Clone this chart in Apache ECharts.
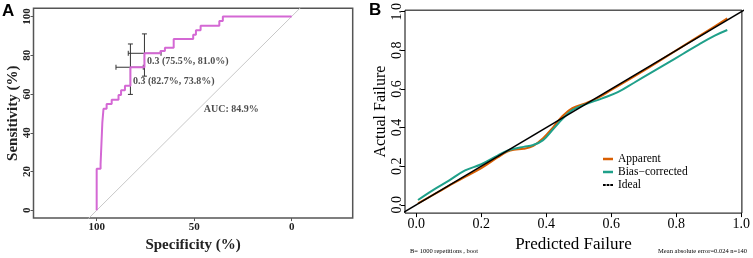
<!DOCTYPE html>
<html>
<head>
<meta charset="utf-8">
<script src="https://cdn.jsdelivr.net/npm/echarts@6.0.0/dist/echarts.min.js"></script>
<style>
  html, body { margin: 0; padding: 0; background: #fff; }
  #chart { width: 753px; height: 258px; }
</style>
</head>
<body>
<div id="chart"></div>
<script>
// ---- panel A: ROC curve (specificity / sensitivity, %) ----
const rocSpec = [100, 100, 98.0, 98.0, 97.1, 97.1, 96.5, 96.5, 94.9, 94.9, 92.3, 92.3, 88.8, 88.8, 87.5, 87.5,
  85.5, 85.5, 82.7, 82.7, 75.5, 75.5, 67.3, 67.3, 65.0, 65.0, 60.5, 60.5, 50.5, 50.5, 49.1, 49.1,
  46.7, 46.7, 37.1, 37.1, 35.3, 35.3, 0]
const rocSens = [0, 21.4, 21.4, 23.8, 23.8, 45.2, 45.2, 52.4, 52.4, 54.8, 54.8, 57.1, 57.1, 59.5, 59.5, 61.9,
  61.9, 64.3, 64.3, 73.8, 73.8, 81.0, 81.0, 82.2, 82.2, 83.8, 83.8, 88.4, 88.4, 90.5, 90.5, 92.9,
  92.9, 95.2, 95.2, 97.6, 97.6, 100, 100]
const diagSpec = [110, -10]
const diagSens = [-10, 110]

// thresholds with their confidence intervals
const thrValue = ['0.3', '0.3']
const thrSpec = [82.7, 75.5]
const thrSens = [73.8, 81.0]
const thrSpecLow = [76.1, 67.0]
const thrSpecHigh = [90.1, 83.8]
const thrSensLow = [59.8, 69.2]
const thrSensHigh = [85.8, 91.0]
const aucText = 'AUC: 84.9%'
const aucPos = [45.3, 51.8]
const rocTicks = [100, 50, 0]
const sensTicks = [0, 20, 40, 60, 80, 100]

// ---- panel B: calibration curve ----
const appX = [0.005, 0.05, 0.10, 0.15, 0.20, 0.25, 0.28, 0.30, 0.33, 0.36, 0.39, 0.42, 0.45, 0.48, 0.52, 0.56, 0.60, 0.70, 0.80, 0.90, 0.957]
const appY = [0.008, 0.05, 0.098, 0.145, 0.19, 0.245, 0.275, 0.285, 0.29, 0.305, 0.345, 0.40, 0.46, 0.50, 0.525, 0.555, 0.595, 0.695, 0.80, 0.905, 0.965]
const biasX = [0.005, 0.05, 0.10, 0.15, 0.20, 0.25, 0.28, 0.30, 0.33, 0.36, 0.39, 0.42, 0.45, 0.48, 0.52, 0.57, 0.62, 0.67, 0.72, 0.77, 0.82, 0.87, 0.92, 0.957]
const biasY = [0.025, 0.075, 0.125, 0.178, 0.21, 0.255, 0.28, 0.29, 0.30, 0.31, 0.335, 0.39, 0.445, 0.49, 0.52, 0.55, 0.583, 0.632, 0.682, 0.731, 0.781, 0.831, 0.877, 0.905]
const idealX = [-0.1, 1.1]
const idealY = [-0.1, 1.1]
const calTicks = [0, 0.2, 0.4, 0.6, 0.8, 1.0]
const noteLeft = 'B= 1000 repetitions , boot'
const noteRight = 'Mean absolute error=0.024 n=140'

const serif = 'Liberation Serif'
const zip = (a, b) => a.map((v, i) => [v, b[i]])

const chart = echarts.init(document.getElementById('chart'))

// crosshair for each threshold point
function renderCI(params, api) {
  const sens = api.value(1)
  const spec = api.value(0)
  const h0 = api.coord([api.value(2), sens])
  const h1 = api.coord([api.value(3), sens])
  const v0 = api.coord([spec, api.value(4)])
  const v1 = api.coord([spec, api.value(5)])
  const cap = 2.5
  const style = { stroke: '#333', lineWidth: 1 }
  const seg = (x1, y1, x2, y2) => ({ type: 'line', shape: { x1, y1, x2, y2 }, style })
  return {
    type: 'group',
    children: [
      seg(h0[0], h0[1], h1[0], h1[1]),
      seg(h0[0], h0[1] - cap, h0[0], h0[1] + cap),
      seg(h1[0], h1[1] - cap, h1[0], h1[1] + cap),
      seg(v0[0], v0[1], v1[0], v1[1]),
      seg(v0[0] - cap, v0[1], v0[0] + cap, v0[1]),
      seg(v1[0] - cap, v1[1], v1[0] + cap, v1[1])
    ]
  }
}

const labelDy = [14, 8]
const dashIcon = 'path://M0,0h3v2h-3z M4,0h3v2h-3z M8,0h3v2h-3z'

const option = {
  animation: false,
  grid: [
    { left: 33.5, top: 8.3, width: 319.2, height: 211, show: true, borderColor: '#555', borderWidth: 1.5 },
    { left: 405, top: 8.3, width: 345.7, height: 211, show: true, borderColor: '#000', borderWidth: 1 }
  ],
  xAxis: [
    {
      gridIndex: 0, type: 'value', inverse: true, min: -31.3, max: 132.4,
      splitLine: { show: false },
      axisLine: { show: false, onZero: false },
      axisTick: { show: true, customValues: rocTicks, length: 3, lineStyle: { color: '#555' } },
      axisLabel: { customValues: rocTicks, fontFamily: serif, fontWeight: 'bold', fontSize: 11, color: '#222', margin: 4 },
      name: 'Specificity (%)', nameLocation: 'middle', nameGap: 12,
      nameTextStyle: { fontFamily: serif, fontWeight: 'bold', fontSize: 15, color: '#222' }
    },
    {
      gridIndex: 1, type: 'value', min: -0.035, max: 1.002,
      splitLine: { show: false },
      axisLine: { show: false, onZero: false },
      axisTick: { show: true, customValues: calTicks, length: 4, lineStyle: { color: '#000' } },
      axisLabel: { customValues: calTicks, formatter: v => v.toFixed(1), fontFamily: serif, fontSize: 14, color: '#000', margin: 4 },
      name: 'Predicted Failure', nameLocation: 'middle', nameGap: 16,
      nameTextStyle: { fontFamily: serif, fontSize: 17, color: '#000' }
    }
  ],
  yAxis: [
    {
      gridIndex: 0, type: 'value', min: -4, max: 104.2,
      splitLine: { show: false },
      axisLine: { show: false, onZero: false },
      axisTick: { show: true, customValues: sensTicks, length: 3, lineStyle: { color: '#555' } },
      axisLabel: { customValues: sensTicks, rotate: 90, fontFamily: serif, fontWeight: 'bold', fontSize: 11, color: '#222', margin: 1 },
      name: 'Sensitivity (%)', nameLocation: 'middle', nameGap: 11, nameRotate: 90,
      nameTextStyle: { fontFamily: serif, fontWeight: 'bold', fontSize: 15, color: '#222' }
    },
    {
      gridIndex: 1, type: 'value', min: -0.043, max: 1.008,
      splitLine: { show: false },
      axisLine: { show: false, onZero: false },
      axisTick: { show: true, customValues: calTicks, length: 4, lineStyle: { color: '#000' } },
      axisLabel: { customValues: calTicks, formatter: v => v.toFixed(1), rotate: 90, fontFamily: serif, fontSize: 14, color: '#000', margin: 1 },
      name: 'Actual Failure', nameLocation: 'middle', nameGap: 11, nameRotate: 90,
      nameTextStyle: { fontFamily: serif, fontSize: 16, color: '#000' }
    }
  ],
  legend: {
    orient: 'vertical', left: 598, top: 148,
    itemWidth: 10, itemHeight: 2.5, itemGap: 1,
    textStyle: { fontFamily: serif, fontSize: 11.5, color: '#000' },
    data: [
      { name: 'Apparent', icon: 'rect' },
      { name: 'Bias−corrected', icon: 'rect' },
      { name: 'Ideal', icon: dashIcon }
    ]
  },
  graphic: [
    { type: 'text', left: 2, top: 3, style: { text: 'A', font: 'bold 17px "Liberation Sans"', fill: '#000' } },
    { type: 'text', left: 369, top: 2, style: { text: 'B', font: 'bold 17px "Liberation Sans"', fill: '#000' } },
    { type: 'text', left: 410, top: 248, style: { text: noteLeft, font: '6.5px "Liberation Serif"', fill: '#000' } },
    { type: 'text', right: 6, top: 248, style: { text: noteRight, font: '6.5px "Liberation Serif"', fill: '#000' } }
  ],
  series: [
    {
      type: 'line', xAxisIndex: 0, yAxisIndex: 0, data: zip(diagSpec, diagSens),
      symbol: 'none', silent: true, clip: true,
      lineStyle: { color: '#c8c8c8', width: 1 }
    },
    {
      type: 'line', xAxisIndex: 0, yAxisIndex: 0, data: zip(rocSpec, rocSens),
      symbol: 'none', silent: true,
      lineStyle: { color: '#d468d4', width: 2 }
    },
    {
      type: 'custom', xAxisIndex: 0, yAxisIndex: 0, silent: true,
      data: thrSpec.map((s, i) => [s, thrSens[i], thrSpecLow[i], thrSpecHigh[i], thrSensLow[i], thrSensHigh[i]]),
      renderItem: renderCI
    },
    {
      type: 'scatter', xAxisIndex: 0, yAxisIndex: 0, symbolSize: 1, silent: true,
      itemStyle: { color: 'transparent' },
      data: thrSpec.map((s, i) => ({ value: [s, thrSens[i]], label: { offset: [0, labelDy[i]] } })),
      label: {
        show: true, position: 'right', distance: 2,
        fontFamily: serif, fontWeight: 'bold', fontSize: 10, color: '#222',
        formatter: p => `${thrValue[p.dataIndex]} (${thrSpec[p.dataIndex].toFixed(1)}%, ${thrSens[p.dataIndex].toFixed(1)}%)`
      }
    },
    {
      type: 'scatter', xAxisIndex: 0, yAxisIndex: 0, symbolSize: 1, silent: true,
      itemStyle: { color: 'transparent' },
      data: [aucPos],
      label: { show: true, position: 'right', distance: 0, fontFamily: serif, fontWeight: 'bold', fontSize: 10, color: '#222', formatter: aucText }
    },
    {
      name: 'Apparent', type: 'line', xAxisIndex: 1, yAxisIndex: 1, data: zip(appX, appY),
      symbol: 'none', smooth: 0.4, color: '#D95F02', lineStyle: { color: '#D95F02', width: 2 }
    },
    {
      name: 'Bias−corrected', type: 'line', xAxisIndex: 1, yAxisIndex: 1, data: zip(biasX, biasY),
      symbol: 'none', smooth: 0.4, color: '#1fa08a', lineStyle: { color: '#1fa08a', width: 2 }
    },
    {
      name: 'Ideal', type: 'line', xAxisIndex: 1, yAxisIndex: 1, data: zip(idealX, idealY),
      symbol: 'none', clip: true, color: '#000', lineStyle: { color: '#000', width: 1.6 }
    }
  ]
}

chart.setOption(option)
</script>
</body>
</html>
